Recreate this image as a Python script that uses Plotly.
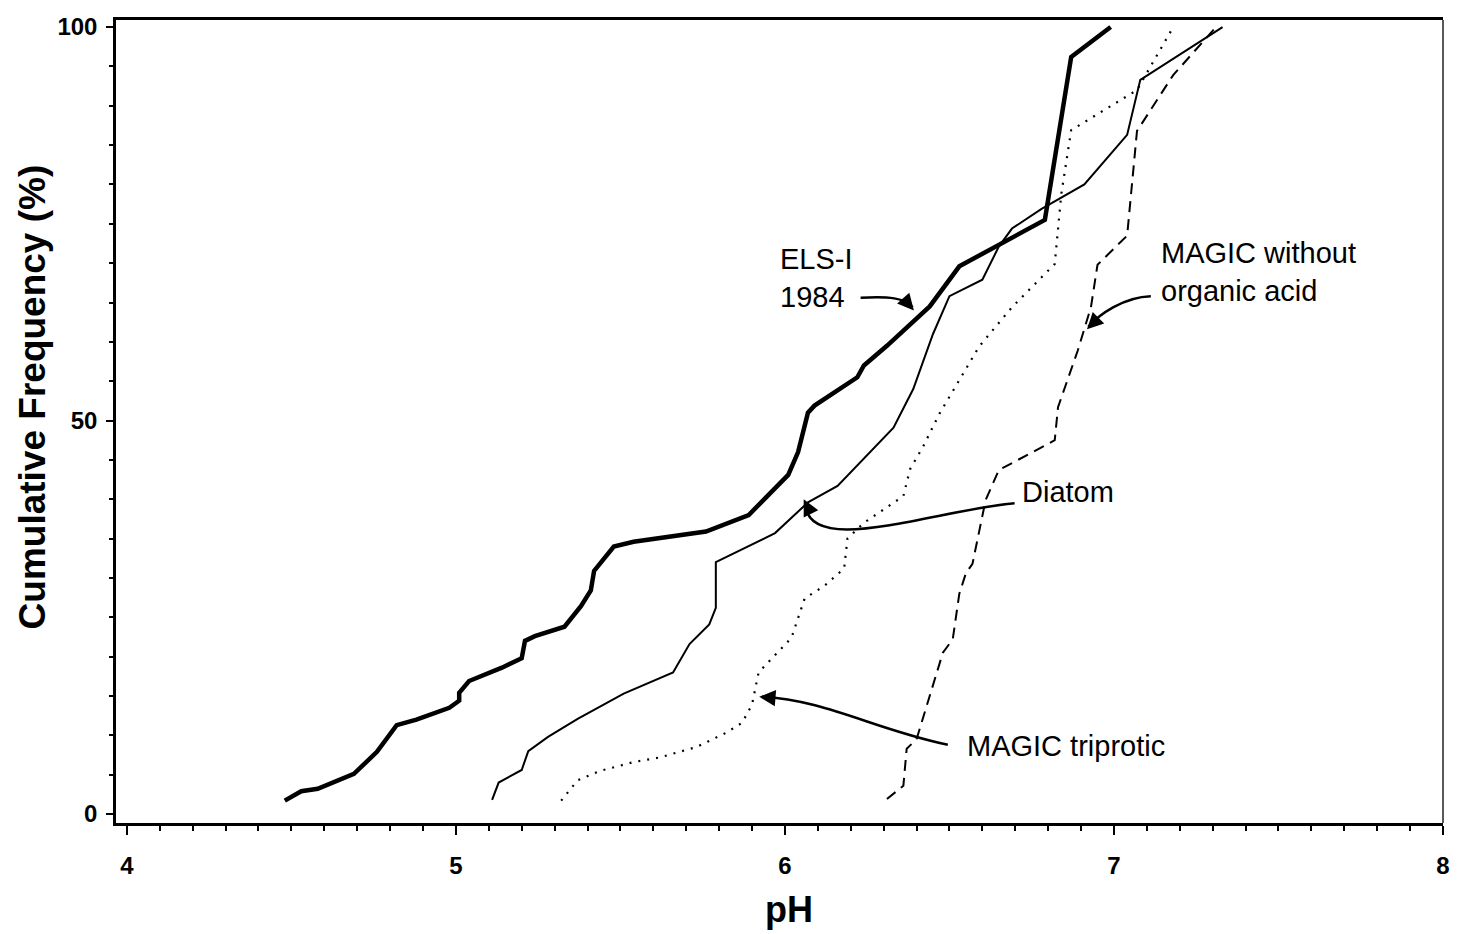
import plotly.graph_objects as go

# Cumulative frequency distributions of lake pH
els_ph = [4.48, 4.53, 4.58, 4.69, 4.76, 4.82, 4.88, 4.98, 5.01, 5.01, 5.04, 5.14, 5.20,
          5.21, 5.24, 5.33, 5.38, 5.41, 5.42, 5.48, 5.54, 5.64, 5.76, 5.89, 5.93, 6.01,
          6.04, 6.07, 6.09, 6.22, 6.24, 6.31, 6.44, 6.53, 6.79, 6.87, 6.99]
els_cf = [1.7, 2.9, 3.2, 5.1, 7.9, 11.3, 12.0, 13.5, 14.4, 15.4, 16.9, 18.6, 19.8,
          22.0, 22.6, 23.8, 26.4, 28.4, 30.9, 34.0, 34.6, 35.2, 35.9, 38.0, 39.7, 43.1,
          46.0, 51.0, 51.9, 55.5, 57.0, 59.5, 64.5, 69.6, 75.5, 96.2, 100.0]

diatom_ph = [5.11, 5.13, 5.20, 5.22, 5.28, 5.37, 5.51, 5.66, 5.71, 5.77, 5.79, 5.79, 5.97,
             6.07, 6.16, 6.33, 6.39, 6.45, 6.50, 6.60, 6.65, 6.69, 6.78, 6.91, 7.04, 7.08, 7.33]
diatom_cf = [1.8, 4.0, 5.6, 8.0, 9.8, 12.1, 15.3, 18.0, 21.6, 24.1, 26.2, 32.0, 35.7,
             39.6, 41.7, 49.1, 54.0, 61.0, 65.8, 67.9, 72.1, 74.4, 76.9, 80.0, 86.3, 93.3, 100.0]

tri_ph = [5.32, 5.37, 5.44, 5.54, 5.62, 5.73, 5.82, 5.87, 5.90, 5.92, 5.97, 6.02, 6.06,
          6.12, 6.18, 6.19, 6.24, 6.36, 6.38, 6.42, 6.47, 6.59, 6.69, 6.82, 6.84, 6.87,
          7.07, 7.18]
tri_cf = [1.7, 4.3, 5.5, 6.6, 7.2, 8.5, 10.3, 11.6, 13.9, 18.0, 20.2, 22.4, 27.4,
          29.0, 31.2, 35.0, 37.0, 40.4, 43.8, 46.7, 50.9, 59.4, 64.4, 69.9, 78.8, 86.9,
          92.0, 100.0]

noorg_ph = [6.31, 6.36, 6.37, 6.40, 6.48, 6.51, 6.53, 6.55, 6.57, 6.61, 6.65, 6.82, 6.83,
            6.89, 6.93, 6.95, 7.04, 7.07, 7.18, 7.31]
noorg_cf = [1.9, 3.6, 8.3, 9.5, 20.5, 22.2, 28.0, 30.6, 31.8, 39.9, 43.7, 47.5, 51.7,
            58.9, 64.4, 69.8, 73.5, 86.8, 93.9, 100.0]

x_ticks = [4, 5, 6, 7, 8]
y_ticks = [0, 50, 100]

FONT = "Liberation Sans, Arial, sans-serif"
INK = "black"

fig = go.Figure()
fig.add_trace(go.Scatter(x=els_ph, y=els_cf, mode="lines", name="ELS-I 1984",
                         line=dict(color=INK, width=4.5)))
fig.add_trace(go.Scatter(x=diatom_ph, y=diatom_cf, mode="lines", name="Diatom",
                         line=dict(color=INK, width=2)))
fig.add_trace(go.Scatter(x=tri_ph, y=tri_cf, mode="lines", name="MAGIC triprotic",
                         line=dict(color=INK, width=2.2, dash="2px,7px")))
fig.add_trace(go.Scatter(x=noorg_ph, y=noorg_cf, mode="lines",
                         name="MAGIC without organic acid",
                         line=dict(color=INK, width=2, dash="11px,7px")))

# curved leader lines from each label to its curve
leaders = [
    "M 6.230,65.6 C 6.314,65.8 6.366,65.6 6.388,64.4",
    "M 7.112,65.8 C 7.030,65.7 6.955,63.5 6.922,61.9",
    "M 6.698,39.5 C 6.456,38.6 6.063,32.4 6.062,39.6",
    "M 6.495,8.8 C 6.275,10.7 6.124,14.5 5.930,14.9",
]
for p in leaders:
    fig.add_shape(type="path", path=p, xref="x", yref="y",
                  line=dict(color=INK, width=2.5))

# arrowheads at the ends of the leaders
heads = [(6.392, 64.0, -7, -8), (6.918, 61.6, 8, -8), (6.057, 40.0, 5, 10),
         (5.922, 14.9, 12, 1)]
for hx, hy, ax, ay in heads:
    fig.add_annotation(x=hx, y=hy, ax=ax, ay=ay, text="", showarrow=True,
                       arrowhead=2, arrowsize=1.3, arrowwidth=2.5, arrowcolor=INK,
                       standoff=0, startstandoff=0)

label_font = dict(family=FONT, size=29, color=INK)
labels = [
    (5.980, 68.1, "ELS-I<br>1984"),
    (7.136, 68.9, "MAGIC without<br>organic acid"),
    (6.713, 40.9, "Diatom"),
    (6.547, 8.6, "MAGIC triprotic"),
]
for lx, ly, txt in labels:
    fig.add_annotation(x=lx, y=ly, text=txt, showarrow=False, xanchor="left",
                       yanchor="middle", align="left", font=label_font)

# axis titles
fig.add_annotation(xref="paper", yref="paper", x=0.5075, y=-0.108, text="<b>pH</b>",
                   showarrow=False, xanchor="center", yanchor="middle",
                   font=dict(family=FONT, size=36, color=INK))
fig.add_annotation(xref="paper", yref="paper", x=-0.063, y=0.5305,
                   text="<b>Cumulative Frequency (%)</b>", textangle=-90,
                   showarrow=False, xanchor="center", yanchor="middle",
                   font=dict(family=FONT, size=37, color=INK))

# right-hand frame edge
fig.add_shape(type="line", xref="paper", yref="paper", x0=1, x1=1, y0=0, y1=1,
              line=dict(color="#222", width=1.5))

tick_font = dict(family=FONT, size=24, color=INK, weight="bold")
fig.update_xaxes(range=[3.967, 8.0], tickvals=x_ticks, ticktext=[str(v) for v in x_ticks],
                 ticks="outside", ticklen=9, tickwidth=2, tickcolor=INK,
                 minor=dict(dtick=0.1, ticks="outside", ticklen=5, tickwidth=1.5, tickcolor=INK),
                 showline=True, linewidth=2.5, linecolor=INK, mirror=True,
                 showgrid=False, zeroline=False, tickfont=tick_font,
                 ticklabelstandoff=10)
fig.update_yaxes(range=[-1.14, 100.9], tickvals=y_ticks, ticktext=[str(v) for v in y_ticks],
                 ticks="outside", ticklen=7, tickwidth=2, tickcolor=INK,
                 minor=dict(dtick=5, ticks="outside", ticklen=4, tickwidth=1.5, tickcolor=INK),
                 showline=True, linewidth=2.5, linecolor=INK,
                 showgrid=False, zeroline=False, tickfont=tick_font,
                 ticklabelstandoff=4)

fig.update_layout(width=1458, height=934, plot_bgcolor="white", paper_bgcolor="white",
                  margin=dict(l=116, r=8, t=20, b=111), showlegend=False,
                  font=dict(family=FONT, color=INK))

fig.write_html("out.html")
